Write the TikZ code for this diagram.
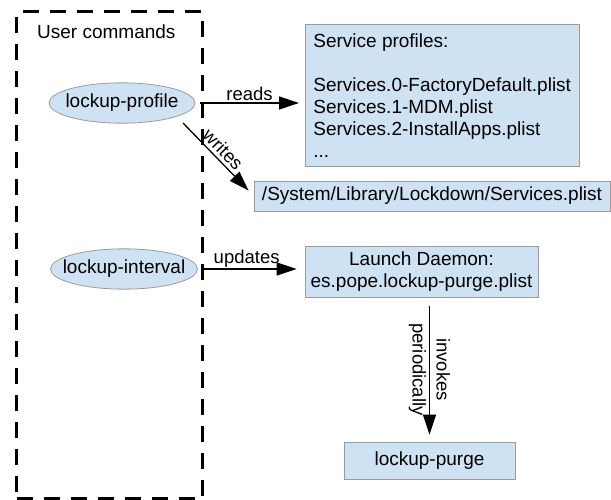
\documentclass[tikz,border=0pt]{standalone}
\usepackage{fontspec}
\setmainfont{Liberation Sans}
\usetikzlibrary{arrows.meta,shapes.geometric}
\definecolor{boxfill}{HTML}{CFE2F3}
\definecolor{boxline}{HTML}{9A9A9A}

\begin{document}
\begin{tikzpicture}[x=1pt,y=-1pt,
  every node/.style={font=\fontsize{19}{22}\selectfont},
  cmd/.style={ellipse, draw=boxline, fill=boxfill, line width=0.8pt,
              minimum width=146pt, minimum height=40pt, inner xsep=-12pt, inner ysep=5.4pt},
  filebox/.style={rectangle, draw=boxline, fill=boxfill, line width=0.8pt, inner sep=0pt},
  flow/.style={line width=1.3pt, -{Triangle[length=20pt,width=13pt]}},
  lbl/.style={font=\fontsize{18.5}{24}\selectfont, inner sep=2pt},
]
\useasboundingbox (0,0) rectangle (611,500);

% group frame for the command-line tools
\node (group) [draw, dash pattern=on 16pt off 11pt, line width=3.2pt,
  minimum width=186pt, minimum height=487pt, anchor=north west, inner sep=0pt] at (15,10) {};
\node (title) [anchor=base west, inner sep=0pt] at (37,39) {User commands};

% commands
\node (lp) [cmd] at (122,103) {lockup-profile};
\node (li) [cmd, minimum width=147pt, minimum height=39pt] at (124,269) {lockup-interval};

% files
\node (profiles) [filebox, anchor=north west, minimum width=273pt, minimum height=142pt,
  inner xsep=8pt, align=left] at (305,24)
  {Service profiles:\\[22pt]Services.0-FactoryDefault.plist\\Services.1-MDM.plist\\Services.2-InstallApps.plist\\...};
\node (sys) [filebox, minimum width=356pt, minimum height=30pt] at (432,196)
  {/System/Library/Lockdown/Services.plist};
\node (ld) [filebox, minimum width=233pt, minimum height=51pt, align=center] at (421.5,271.5)
  {Launch Daemon:\\es.pope.lockup-purge.plist};
\node (purge) [filebox, minimum width=171pt, minimum height=37pt] at (429.5,460.5) {lockup-purge};

% connectors
\draw[flow, shorten >=6pt] ([xshift=5pt]lp.east) -- (lp.east -| profiles.west)
  node[lbl, pos=0.47, above] {reads};
\draw[flow] ([xshift=61pt,yshift=-20pt]lp.center) -- ([xshift=-5pt,yshift=-10pt]sys.north west)
  node[lbl, midway, sloped, above, inner sep=3pt] {writes};
\draw[flow, shorten >=8pt] ([xshift=5pt]li.east) -- (li.east -| ld.west)
  node[lbl, pos=0.43, above, inner sep=1pt] {updates};
\draw[flow, shorten <=9pt, shorten >=7pt] (purge.north |- ld.south) -- (purge.north)
  node[lbl, midway, rotate=-90, align=center, inner sep=0pt] {invokes\\periodically};
\end{tikzpicture}
\end{document}
